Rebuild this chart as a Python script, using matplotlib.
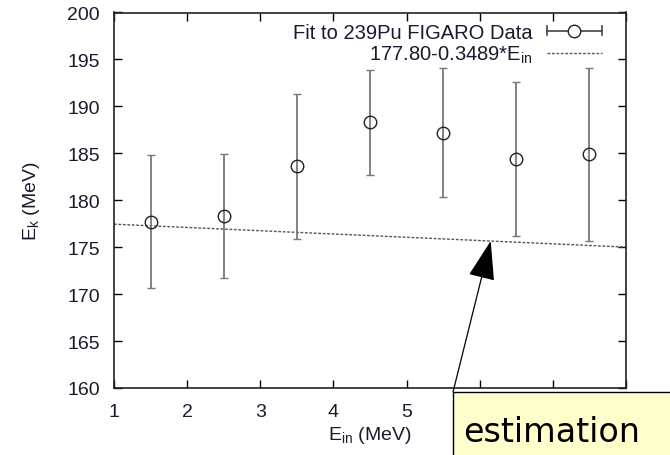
import matplotlib
matplotlib.use("Agg")
import matplotlib.pyplot as plt
from matplotlib.patches import Rectangle
from matplotlib.lines import Line2D
from matplotlib.legend_handler import HandlerBase
import numpy as np

# Data
e_in = [1.5, 2.5, 3.5, 4.5, 5.5, 6.5, 7.5]
e_k = [177.7, 178.3, 183.6, 188.3, 187.2, 184.4, 184.9]
e_err = [7.1, 6.6, 7.7, 5.6, 6.9, 8.2, 9.2]
fit_a, fit_b = 177.80, -0.3489
x_ticks = [1, 2, 3, 4, 5, 6, 7, 8]
# labels 6-8 are hidden behind the "estimation" box in the reference
x_tick_labels = ["1", "2", "3", "4", "5", "", "", ""]
y_ticks = [160, 165, 170, 175, 180, 185, 190, 195, 200]

W, H = 670, 456
fig = plt.figure(figsize=(W / 100, H / 100), dpi=100)
ax = fig.add_axes([114 / W, 1 - 389 / H, (626 - 114) / W, (389 - 13.5) / H])

font = "Liberation Sans"
tc = "#1a1a2e"


class HErrHandler(HandlerBase):
    def create_artists(self, legend, orig_handle, xdescent, ydescent, width,
                       height, fontsize, trans):
        y = height / 2 - ydescent
        x0, x1 = -xdescent, width - xdescent
        cap = height * 0.35
        arts = [
            Line2D([x0, x1], [y, y], color="#444444", lw=1.2),
            Line2D([x0, x0], [y - cap, y + cap], color="#444444", lw=1.2),
            Line2D([x1, x1], [y - cap, y + cap], color="#444444", lw=1.2),
            Line2D([(x0 + x1) / 2], [y], marker="o", ms=9, mfc="white",
                   mec="#222222", mew=1.0, ls="none"),
        ]
        for a in arts:
            a.set_transform(trans)
        return arts


xl = np.array([1, 8])
fit_line, = ax.plot(xl, fit_a + fit_b * xl, linestyle=(0, (2, 1.2)), color="#555555",
                    lw=1.0, zorder=2)
eb = ax.errorbar(e_in, e_k, yerr=e_err, fmt="o", mfc="none", mec="#222222", ms=9,
                 mew=1.0, ecolor="#787878", elinewidth=1.3, capsize=3, capthick=1.3,
                 zorder=3)

ax.set_xlim(1, 8)
ax.set_ylim(160, 200)
ax.set_xticks(x_ticks)
ax.set_xticklabels(x_tick_labels)
ax.set_yticks(y_ticks)
ax.tick_params(direction="in", length=6, width=1, top=True, right=True,
               labelsize=14, labelcolor=tc)
ax.tick_params(axis="y", pad=10)
ax.tick_params(axis="x", pad=11)
for lab in ax.get_xticklabels() + ax.get_yticklabels():
    lab.set_fontfamily(font)
for s in ax.spines.values():
    s.set_linewidth(1.2)
    s.set_color("#222222")

ax.set_xlabel("E$_{\\mathregular{in}}$ (MeV)", fontsize=14, family=font, color=tc,
              labelpad=3)
ax.set_ylabel("E$_{\\mathregular{k}}$ (MeV)", fontsize=14, family=font, color=tc,
              labelpad=18)

eb_handle = Line2D([], [])
leg = ax.legend([eb_handle, fit_line],
                ["Fit to 239Pu FIGARO Data", "177.80-0.3489*E$_{\\mathregular{in}}$"],
                handler_map={eb_handle: HErrHandler()},
                loc="upper right", frameon=False, markerfirst=False,
                prop={"family": font, "size": 14.5}, handlelength=2.75,
                handletextpad=0.7, borderaxespad=0.3, labelspacing=0.1,
                borderpad=0.2, bbox_to_anchor=(1 - 14 / 512, 1.0))
for t in leg.get_texts():
    t.set_color(tc)
    t.set_ha("right")

# Annotation box
rect = Rectangle((453 / W, 1 - 460 / H), 240 / W, (460 - 393) / H,
                 transform=fig.transFigure, facecolor="#ffffcc", edgecolor="black",
                 lw=1.0, clip_on=False, zorder=10)
fig.patches.append(rect)
fig.text(463 / W, 1 - 442 / H, "estimation", fontsize=24, family="DejaVu Sans",
         color="black", va="baseline", ha="left", zorder=11)
ax.annotate("", xy=(6.15, fit_a + fit_b * 6.15), xycoords="data",
            xytext=(453 / W, 1 - 393 / H), textcoords="figure fraction",
            arrowprops=dict(arrowstyle="-|>,head_length=1.0,head_width=0.34",
                            mutation_scale=25, color="black", lw=0.9,
                            shrinkA=0, shrinkB=0),
            annotation_clip=False, zorder=12)

fig.savefig("out.png", dpi=100)
